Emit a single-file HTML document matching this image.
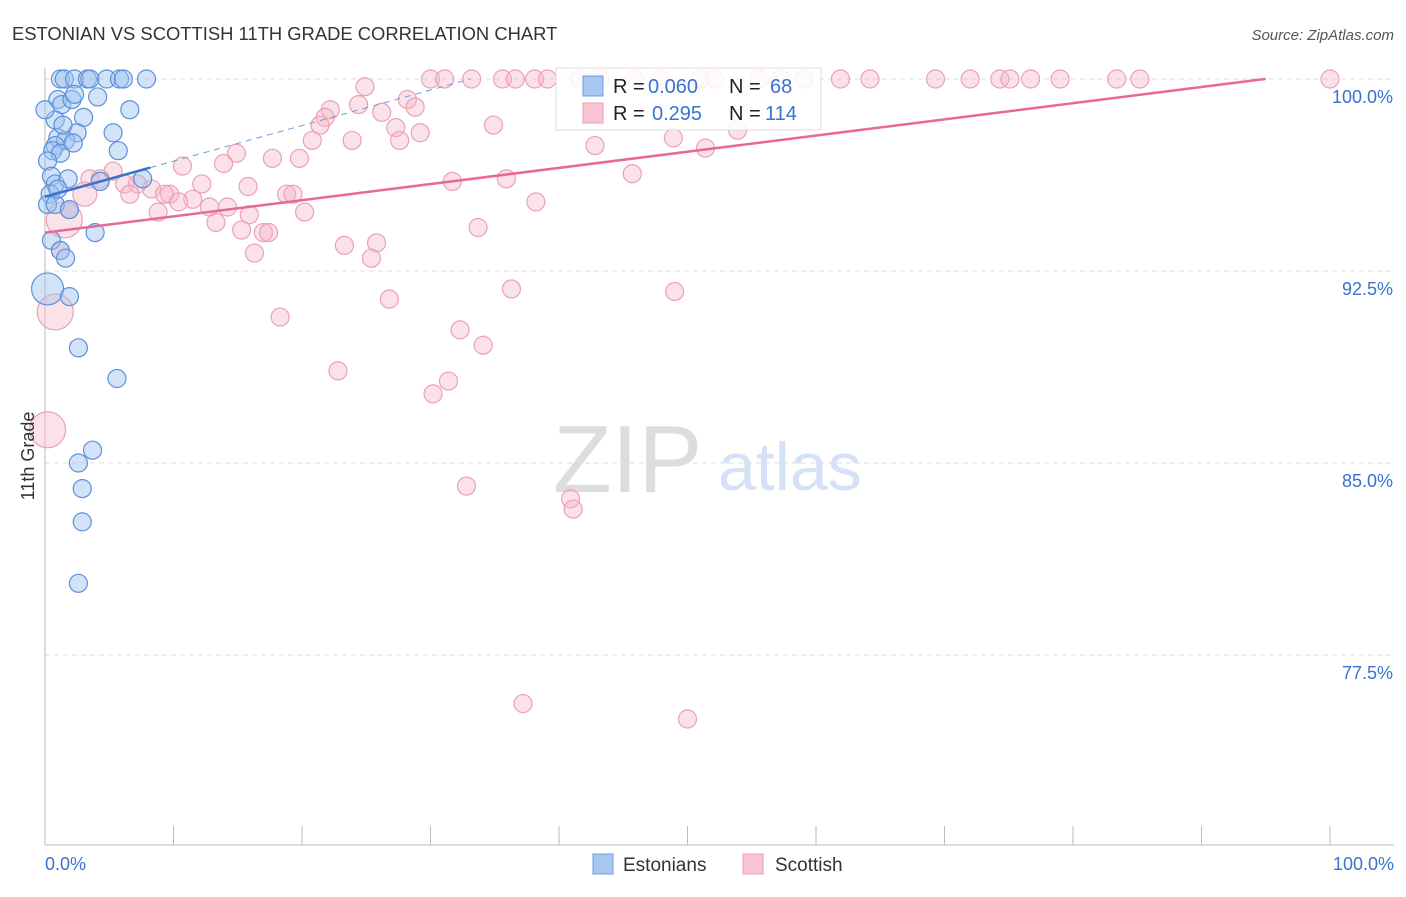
<!DOCTYPE html>
<html><head><meta charset="utf-8"><style>
body{margin:0;background:#fff;font-family:"Liberation Sans",sans-serif}
svg text{font-family:"Liberation Sans",sans-serif}
</style></head><body>
<svg id="chart" width="1406" height="892" viewBox="0 0 1406 892">
<text x="12" y="40" font-size="18.4" fill="#333">ESTONIAN VS SCOTTISH 11TH GRADE CORRELATION CHART</text>
<text x="1394" y="40" font-size="15" fill="#555" font-style="italic" text-anchor="end">Source: ZipAtlas.com</text>
<g>
<text x="553" y="492" font-size="96" fill="#ddd" font-family="Liberation Serif,serif">ZIP</text>
<text x="718" y="490" font-size="68" fill="#d5e2f5">atlas</text>
</g>
<g id="grid"></g><g id="axes"></g><g id="pts"></g><g id="lines"></g>
<g>
<rect x="556" y="68" width="265" height="62" fill="#fff" fill-opacity="0.85" stroke="#ddd"/>
<rect x="583" y="76" width="20" height="20" fill="#a9c8f0" stroke="#6d9de0"/>
<text x="613" y="93" font-size="20" fill="#222">R =</text>
<text x="648" y="93" font-size="20" fill="#3a72d0">0.060</text>
<text x="729" y="93" font-size="20" fill="#222">N =</text>
<text x="770" y="93" font-size="20" fill="#3a72d0">68</text>
<rect x="583" y="103" width="20" height="20" fill="#f8c3d2" stroke="#eba0b6"/>
<text x="613" y="120" font-size="20" fill="#222">R =</text>
<text x="652" y="120" font-size="20" fill="#3a72d0">0.295</text>
<text x="729" y="120" font-size="20" fill="#222">N =</text>
<text x="765" y="120" font-size="20" fill="#3a72d0">114</text>
</g>
<g>
<rect x="593" y="854" width="20" height="20" fill="#a9c8f0" stroke="#6d9de0"/>
<text x="623" y="871" font-size="19" fill="#333">Estonians</text>
<rect x="743" y="854" width="20" height="20" fill="#f8c3d2" stroke="#eba0b6"/>
<text x="775" y="871" font-size="19" fill="#333">Scottish</text>
</g>
<text transform="translate(34,456) rotate(-90)" font-size="18" fill="#333" text-anchor="middle">11th Grade</text>
</svg>
<script>
const yTicks=[100,92.5,85,77.5];
const yTickLabels=["100.0%","92.5%","85.0%","77.5%"];
const xTickLabels=["0.0%","100.0%"];
const estX=[1.2,1.5,2.3,3.3,3.5,4.8,5.8,6.1,7.9,1.0,1.3,2.1,2.3,4.1,6.6,3.0,2.5,5.3,1.0,1.6,0.8,0.6,1.2,2.2,5.7,0.2,0.5,0.8,0.4,0.2,0.8,1.9,4.3,7.6,3.9,0.5,1.2,1.6,0.2,1.9,2.6,5.6,3.7,2.6,2.9,2.9,2.6,0.8,1.4,0,1.8,1.0];
const estY=[100,100,100,100,100,100,100,100,100,99.2,99.0,99.2,99.4,99.3,98.8,98.5,97.9,97.9,97.7,97.6,97.4,97.2,97.1,97.5,97.2,96.8,96.2,95.9,95.5,95.1,95.1,94.9,96.0,96.1,94.0,93.7,93.3,93.0,91.8,91.5,89.5,88.3,85.5,85.0,84.0,82.7,80.3,98.4,98.2,98.8,96.1,95.7];
const estR=[9,9,9,9,9,9,9,9,9,9,9,9,9,9,9,9,9,9,9,9,9,9,9,9,9,9,9,9,9,9,9,9,9,9,9,9,9,9,16,9,9,9,9,9,9,9,9,9,9,9,9,9];
const scoX=[24.9,30.0,31.1,33.2,35.6,36.6,38.1,39.1,41.6,43.2,45.9,47.9,51.0,52.1,55.6,57.2,59.1,61.9,64.2,69.3,72.0,74.3,75.1,76.7,79.0,83.4,85.2,100,24.4,22.2,21.8,21.4,28.2,28.8,26.2,27.3,29.2,27.6,23.9,20.8,34.9,42.8,48.9,51.4,53.9,14.9,17.7,19.8,13.9,10.7,5.3,45.7,35.9,31.7,3.5,4.3,6.2,7.2,8.3,9.7,12.2,18.8,19.3,6.6,9.3,11.5,10.4,12.8,14.2,38.2,8.8,15.9,20.2,13.3,15.3,17.0,17.4,33.7,23.3,25.8,16.3,25.4,26.8,36.3,49.0,18.3,32.3,34.1,22.8,31.4,30.2,32.8,40.9,41.1,37.2,50.0,1.9,1.2,0.8,0.2,1.5,3.1,15.8];
const scoY=[99.7,100,100,100,100,100,100,100,100,100,100,100,100,100,100,100,100,100,100,100,100,100,100,100,100,100,100,100,99.0,98.8,98.5,98.2,99.2,98.9,98.7,98.1,97.9,97.6,97.6,97.6,98.2,97.4,97.7,97.3,98.0,97.1,96.9,96.9,96.7,96.6,96.4,96.3,96.1,96.0,96.1,96.1,95.9,95.9,95.7,95.5,95.9,95.5,95.5,95.5,95.5,95.3,95.2,95.0,95.0,95.2,94.8,94.7,94.8,94.4,94.1,94.0,94.0,94.2,93.5,93.6,93.2,93.0,91.4,91.8,91.7,90.7,90.2,89.6,88.6,88.2,87.7,84.1,83.6,83.2,75.6,75.0,94.9,93.3,90.9,86.3,94.5,95.5,95.8];
const scoR=scoX.map((v,i)=>i>=97&&i<=101?(i==97?9:18):9);
scoR[101]=12;
const estLine=[95.4,0.139,8.2,33.1];
const scoLine=[94.0,0.0632,95];
const X0=45,X1=1330,Y100=79,PPY=25.6;
const sx=v=>X0+(X1-X0)*v/100, sy=v=>Y100+(100-v)*PPY;
const NS="http://www.w3.org/2000/svg";
function mk(t,a,p){const e=document.createElementNS(NS,t);for(const k in a)e.setAttribute(k,a[k]);p.appendChild(e);return e;}
const grid=document.getElementById('grid'),axes=document.getElementById('axes'),pts=document.getElementById('pts'),lines=document.getElementById('lines');
yTicks.forEach((t,i)=>{
 const g=mk('line',{x1:45,x2:1394,y1:sy(t),y2:sy(t),stroke:'#ddd','stroke-dasharray':'5,4'},grid);
 
 
 const l=mk('text',{x:1393,y:sy(t)+24,'font-size':18,fill:'#3a72d0','text-anchor':'end'},axes);
 l.textContent=yTickLabels[i];
 
 
});
const ax=mk('line',{x1:45,x2:1394,y1:845,y2:845,stroke:'#bbb'},axes);


const ay=mk('line',{x1:45,x2:45,y1:68,y2:845,stroke:'#bbb'},axes);


for(let i=0;i<=10;i++){
 const t=mk('line',{x1:sx(i*10),x2:sx(i*10),y1:826,y2:845,stroke:'#bbb'},axes);
 
 
}
[[0,'start',45],[100,'end',1394]].forEach((d,i)=>{
 const l=mk('text',{x:d[2],y:870,'font-size':18,fill:'#3a72d0','text-anchor':d[1]},axes);
 l.textContent=xTickLabels[i];
 
 
});
scoX.forEach((v,i)=>{
 const c=mk('circle',{cx:sx(v),cy:sy(scoY[i]),r:scoR[i],fill:'#f6b6c8','fill-opacity':0.4,stroke:'#eba0b6','stroke-width':1.2},pts);
 
 
});
estX.forEach((v,i)=>{
 const c=mk('circle',{cx:sx(v),cy:sy(estY[i]),r:estR[i],fill:'#9ec0ee','fill-opacity':0.45,stroke:'#5a90dc','stroke-width':1.2},pts);
 
 
});
const sl=mk('line',{x1:sx(0),y1:sy(scoLine[0]),x2:sx(scoLine[2]),y2:sy(scoLine[0]+scoLine[1]*scoLine[2]),stroke:'#e86a93','stroke-width':2.5},lines);


const el=mk('line',{x1:sx(0),y1:sy(estLine[0]),x2:sx(estLine[2]),y2:sy(estLine[0]+estLine[1]*estLine[2]),stroke:'#3a72d0','stroke-width':2.5},lines);


const ed=mk('line',{x1:sx(estLine[2]),y1:sy(estLine[0]+estLine[1]*estLine[2]),x2:sx(estLine[3]),y2:sy(estLine[0]+estLine[1]*estLine[3]),stroke:'#6d9de0','stroke-width':1,'stroke-dasharray':'6,5'},lines);


</script>
</body></html>
